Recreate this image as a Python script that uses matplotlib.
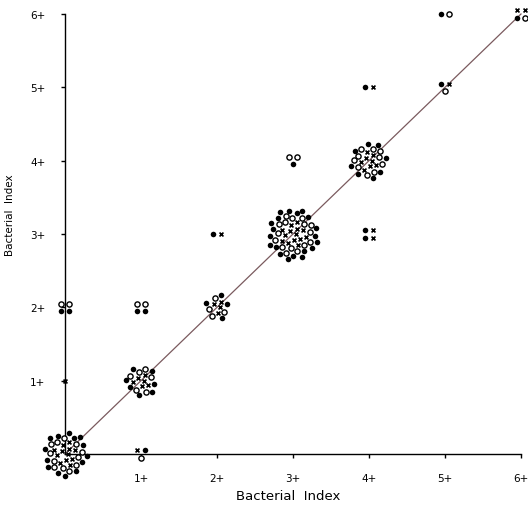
import numpy as np
import matplotlib.pyplot as plt

# each group sits on an (x, y) index pair; marks: f = filled, o = open, x = cross
cx = [0, 0, 0, 1, 1, 1, 2, 2, 3, 3, 4, 4, 4, 5, 5, 6]
cy = [0, 1, 2, 0, 1, 2, 2, 3, 3, 4, 4, 3, 5, 5, 6, 6]
marks = [
    "x" * 12 + "o" * 12 + "f" * 14,
    "x",
    "ooff",
    "xfo",
    "x" * 6 + "o" * 6 + "f" * 7,
    "ooff",
    "x" * 4 + "o" * 4 + "f" * 4,
    "fx",
    "x" * 14 + "o" * 16 + "f" * 20,
    "oof",
    "x" * 8 + "o" * 10 + "f" * 8,
    "fxfx",
    "fx",
    "fxo",
    "fo",
    "xxfo",
]
ticks = [1, 2, 3, 4, 5, 6]
tick_labels = ["1+", "2+", "3+", "4+", "5+", "6+"]

fig = plt.figure(figsize=(5.28, 5.06), dpi=100)
ax = fig.add_axes([65 / 528, 51 / 506, 456 / 528, 440 / 506])
ax.set_xlim(0, 6)
ax.set_ylim(0, 6)

# pixels per data unit, used to spread the marks of one group around its spot
ppx = 456 / 6
ppy = 440 / 6


def spread(n):
    # small groups: rows of two; big groups: packed disc, first marks in the middle
    if n <= 5:
        i = np.arange(n)
        row = i // 2
        col = i % 2
        nrows = row.max() + 1
        in_row = np.array([min(2, n - 2 * r) for r in row])
        dx = (col - (in_row - 1) / 2) * 8.0
        dy = -(row - (nrows - 1) / 2) * 7.5
        return dx, dy
    k = np.arange(n)
    r = 3.7 * np.sqrt(k + 0.5)
    th = k * 2.39996
    return r * np.cos(th), r * np.sin(th)


ax.plot([0, 6], [0, 6], color="#7a5a5e", lw=0.9, zorder=1, clip_on=False)

for x0, y0, m in zip(cx, cy, marks):
    dx, dy = spread(len(m))
    kinds = np.array(list(m))
    px = x0 + dx / ppx
    py = y0 + dy / ppy
    f = kinds == "f"
    o = kinds == "o"
    c = kinds == "x"
    ax.scatter(px[f], py[f], s=16, color="black", linewidths=0, zorder=3, clip_on=False)
    ax.scatter(px[o], py[o], s=14, facecolor="white", edgecolor="black",
               linewidths=1.0, zorder=3, clip_on=False)
    ax.scatter(px[c], py[c], s=8, marker="x", color="black", linewidths=1.2,
               zorder=3, clip_on=False)

for s in ["top", "right"]:
    ax.spines[s].set_visible(False)
for s in ["left", "bottom"]:
    ax.spines[s].set_linewidth(1.0)
    ax.spines[s].set_zorder(2)

ax.set_xticks(ticks)
ax.set_xticklabels(tick_labels)
ax.set_yticks(ticks)
ax.set_yticklabels(tick_labels)
ax.tick_params(direction="out", length=3, width=1, labelsize=7.5, pad=11)

ax.set_xlabel("Bacterial  Index", fontsize=9.5)
ax.xaxis.set_label_coords(0.49, -0.08)
ax.set_ylabel("Bacterial  Index", fontsize=7.5)
ax.yaxis.set_label_coords(-0.11, 0.545)

fig.savefig("out.png", dpi=100)
